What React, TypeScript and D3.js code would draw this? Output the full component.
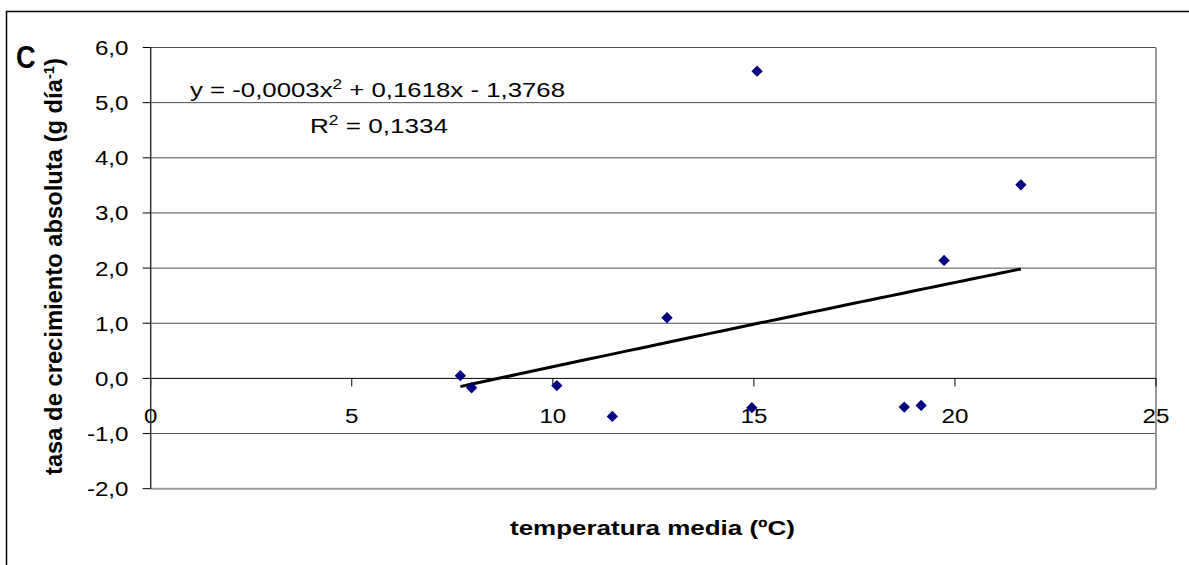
import React from 'react';
import * as d3 from 'd3';

// temperatura media (ºC) and tasa de crecimiento absoluta (g día-1)
const temperatura = [7.7, 7.98, 10.1, 11.48, 12.84, 14.95, 15.08, 18.74, 19.16, 19.73, 21.64];
const tasa = [0.05, -0.17, -0.13, -0.69, 1.1, -0.53, 5.57, -0.52, -0.49, 2.14, 3.51];

const xTicks = [0, 5, 10, 15, 20, 25];
const yTicks = [-2, -1, 0, 1, 2, 3, 4, 5, 6];

// polynomial trendline shown in the chart: y = a x^2 + b x + c
const trendCoef = [-0.0003, 0.1618, -1.3768];
const r2 = 0.1334;

const FONT = '"Liberation Sans", Arial, sans-serif';

const locale = d3.formatLocale({ decimal: ',', thousands: '.', grouping: [3], currency: ['', ''], minus: '-' });
const fmtY = locale.format('.1f');
const fmtCoef = locale.format('.4f');

export default function App() {
    const width = 1189, height = 565;
    const left = 150.7, right = 1156, top = 47.5, bottom = 488.7;

    const x = d3.scaleLinear().domain([0, 25]).range([left, right]);
    const y = d3.scaleLinear().domain([-2, 6]).range([bottom, top]);

    const points = temperatura.map((t, i) => ({ t, v: tasa[i] }));

    const [xmin, xmax] = d3.extent(temperatura) as [number, number];
    const trend = d3.range(xmin, xmax + 0.001, (xmax - xmin) / 60).map(t => ({
        t, v: trendCoef[0] * t * t + trendCoef[1] * t + trendCoef[2]
    }));
    const trendLine = d3.line<{ t: number, v: number }>().x(d => x(d.t)).y(d => y(d.v));

    const diamond = d3.symbol().type(d3.symbolSquare).size(64)();

    const tickStyle = { fontFamily: FONT, fontSize: 21, fill: '#000' };

    return (
        <svg width={width} height={height} style={{ position: 'absolute', left: 0, top: 0, background: '#fff' }}>
            {/* outer chart frame */}
            <path d={`M6.5,${height + 5}V11.5H${width + 5}`} fill="none" stroke="#000" strokeWidth={1.5} />

            {/* gridlines */}
            {yTicks.filter(v => v !== 0 && v !== -2).map(v => (
                <line key={'g' + v} x1={left} x2={right} y1={y(v)} y2={y(v)} stroke="#505050" strokeWidth={1} />
            ))}
            {/* plot area border */}
            <line x1={left} x2={right} y1={y(-2)} y2={y(-2)} stroke="#9a9a9a" strokeWidth={2} />
            <line x1={right} x2={right} y1={y(6)} y2={y(-2)} stroke="#9a9a9a" strokeWidth={2} />

            {/* x axis at y = 0 */}
            <line x1={left} x2={right} y1={y(0)} y2={y(0)} stroke="#000" strokeWidth={1} />
            {xTicks.map(v => (
                <g key={'xt' + v}>
                    <line x1={x(v)} x2={x(v)} y1={y(0)} y2={y(0) + 8} stroke="#000" strokeWidth={1} />
                    <text transform={`translate(${x(v)},423) scale(1.15,1)`} textAnchor="middle" style={tickStyle}>{v}</text>
                </g>
            ))}

            {/* y axis */}
            <line x1={left} x2={left} y1={y(6)} y2={y(-2)} stroke="#333" strokeWidth={1.5} />
            {yTicks.map(v => (
                <g key={'yt' + v}>
                    <line x1={left - 8} x2={left} y1={y(v)} y2={y(v)} stroke="#000" strokeWidth={1} />
                    <text transform={`translate(128.5,${y(v) + 7.5}) scale(1.15,1)`} textAnchor="end" style={tickStyle}>{fmtY(v)}</text>
                </g>
            ))}

            {/* trendline */}
            <path d={trendLine(trend) || ''} fill="none" stroke="#000" strokeWidth={3} />

            {/* points */}
            {points.map((d, i) => (
                <path key={'p' + i} d={diamond || ''} transform={`translate(${x(d.t)},${y(d.v)}) rotate(45)`} fill="#000080" />
            ))}

            {/* equation */}
            <text x={190} y={97} textLength={375} lengthAdjust="spacingAndGlyphs" style={{ fontFamily: FONT, fontSize: 21, fill: '#000' }}>
                y = {fmtCoef(trendCoef[0])}x<tspan dy={-8} fontSize={14}>2</tspan><tspan dy={8}> + {fmtCoef(trendCoef[1])}x - {fmtCoef(-trendCoef[2])}</tspan>
            </text>
            <text x={310} y={133} textLength={138} lengthAdjust="spacingAndGlyphs" style={{ fontFamily: FONT, fontSize: 21, fill: '#000' }}>
                R<tspan dy={-8} fontSize={14}>2</tspan><tspan dy={8}> = {fmtCoef(r2)}</tspan>
            </text>

            {/* panel letter */}
            <text transform="translate(16,68) scale(0.85,1)" style={{ fontFamily: FONT, fontSize: 32, fontWeight: 'bold', fill: '#000' }}>C</text>

            {/* axis titles */}
            <text x={510} y={535} textLength={285} lengthAdjust="spacingAndGlyphs" style={{ fontFamily: FONT, fontSize: 21, fontWeight: 'bold', fill: '#000' }}>
                temperatura media (ºC)
            </text>
            <text transform="translate(62,266.5) rotate(-90)" textAnchor="middle" textLength={417} lengthAdjust="spacingAndGlyphs"
                  style={{ fontFamily: FONT, fontSize: 24, fontWeight: 'bold', fill: '#000' }}>
                tasa de crecimiento absoluta (g día<tspan dy={-8} fontSize={15}>-1</tspan><tspan dy={8}>)</tspan>
            </text>
        </svg>
    );
}
